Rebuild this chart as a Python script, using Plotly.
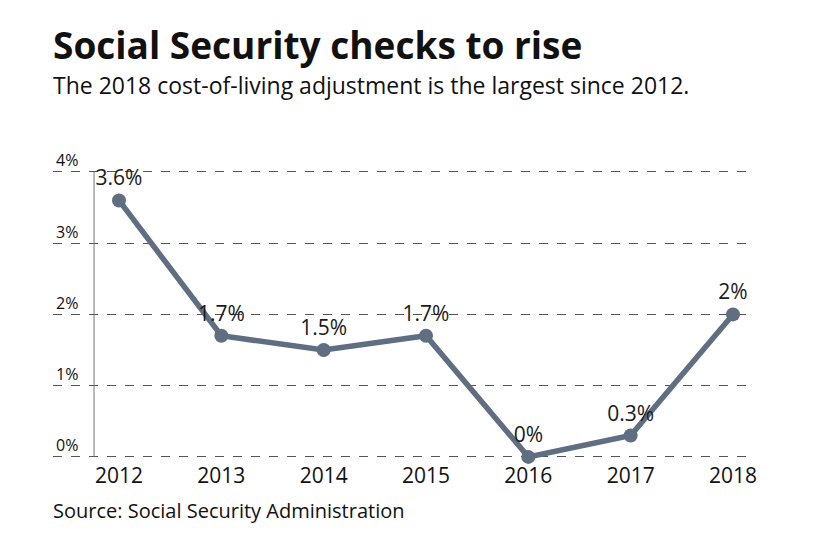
import plotly.graph_objects as go

years = [2012, 2013, 2014, 2015, 2016, 2017, 2018]
cola = [3.6, 1.7, 1.5, 1.7, 0.0, 0.3, 2.0]
point_labels = ["3.6%", "1.7%", "1.5%", "1.7%", "0%", "0.3%", "2%"]
y_ticks = [0, 1, 2, 3, 4]
y_tick_labels = ["0%", "1%", "2%", "3%", "4%"]

FONT = "Open Sans"
LINE_COLOR = "#5f6e81"

fig = go.Figure(
    go.Scatter(
        x=years,
        y=cola,
        mode="lines+markers+text",
        line=dict(color=LINE_COLOR, width=5.5),
        marker=dict(color=LINE_COLOR, size=14),
        text=point_labels,
        textposition="top center",
        textfont=dict(family=FONT, size=21, color="#1a1a1a"),
        cliponaxis=False,
        hoverinfo="skip",
    )
)

# thin vertical axis line left of the first year, from 0% up to 4%
fig.add_shape(
    type="line", xref="x", yref="y",
    x0=2011.756, x1=2011.756, y0=0, y1=4,
    line=dict(color="#777777", width=1),
)

fig.add_annotation(
    text="<b>Social Security checks to rise</b>",
    xref="paper", yref="paper", x=-0.003, y=1.0, yshift=103,
    xanchor="left", yanchor="middle", showarrow=False,
    font=dict(family=FONT, size=37, color="#111111"),
)
fig.add_annotation(
    text="The 2018 cost-of-living adjustment is the largest since 2012.",
    xref="paper", yref="paper", x=-0.003, y=1.0, yshift=62,
    xanchor="left", yanchor="middle", showarrow=False,
    font=dict(family=FONT, size=23, color="#111111"),
)
fig.add_annotation(
    text="Source: Social Security Administration",
    xref="paper", yref="paper", x=-0.003, y=0, yshift=-46,
    xanchor="left", yanchor="middle", showarrow=False,
    font=dict(family=FONT, size=20, color="#111111"),
)

# the page body adds an 8px offset, so margins are shifted up/left by 8
fig.update_layout(
    width=840,
    height=547,
    margin=dict(l=45, r=93, t=139, b=91),
    paper_bgcolor="white",
    plot_bgcolor="white",
    showlegend=False,
    font=dict(family=FONT, color="#111111"),
    xaxis=dict(
        range=[2011.355, 2018.215],
        tickvals=years,
        ticktext=[str(y) for y in years],
        tickfont=dict(family=FONT, size=21, color="#111111"),
        ticklabelstandoff=-3,
        showgrid=False,
        zeroline=False,
        showline=False,
        ticks="",
    ),
    yaxis=dict(
        range=[-0.1, 4.35],
        tickvals=y_ticks,
        ticktext=y_tick_labels,
        ticklabelposition="inside top",
        tickfont=dict(family=FONT, size=16, color="#111111"),
        showgrid=True,
        gridcolor="#555555",
        griddash="dash",
        gridwidth=1,
        zeroline=False,
        showline=False,
        ticks="",
    ),
)

fig.write_html("out.html")
